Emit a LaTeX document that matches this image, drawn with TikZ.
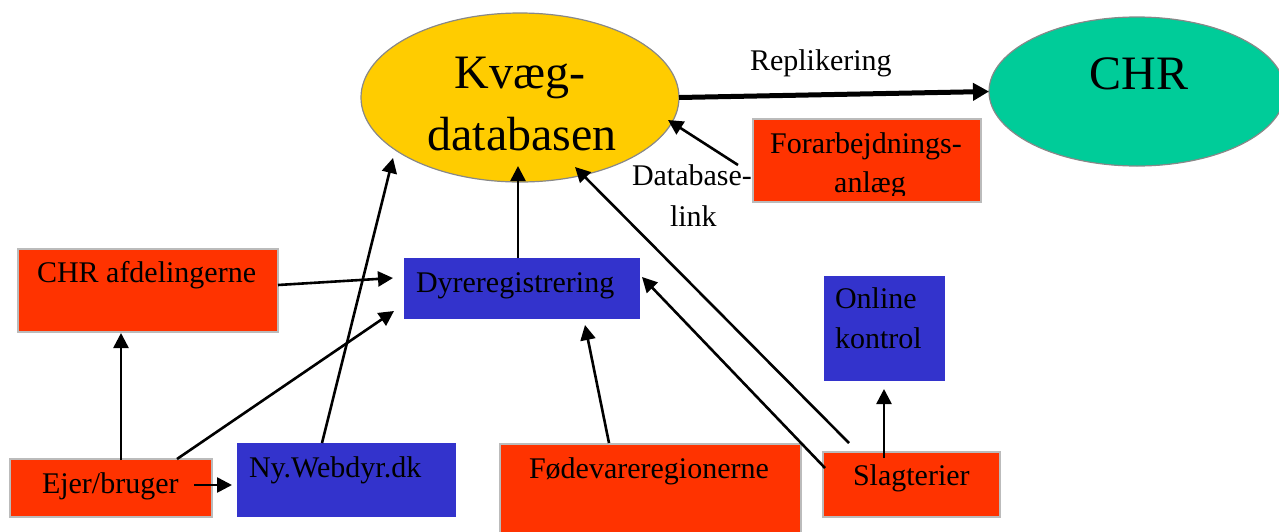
\documentclass[tikz,border=0pt]{standalone}
\usepackage{fontspec}
\setmainfont{Liberation Serif}
\usetikzlibrary{shapes.geometric,arrows.meta}
\definecolor{boxred}{HTML}{FF3300}
\definecolor{boxblue}{HTML}{3333CC}
\definecolor{ellyellow}{HTML}{FFCC00}
\definecolor{ellgreen}{HTML}{00CC99}
\definecolor{redborder}{HTML}{BBBBBB}
\definecolor{ellborder}{HTML}{888888}
\begin{document}
\begin{tikzpicture}[x=1pt,y=-1pt,
  redbox/.style={rectangle, fill=boxred, draw=redborder, line width=1.5pt, inner sep=0pt, outer sep=0pt},
  bluebox/.style={rectangle, fill=boxblue, inner sep=0pt, outer sep=0pt},
  bubble/.style={ellipse, draw=ellborder, line width=1.2pt, inner sep=0pt, outer sep=0pt},
  txt/.style={inner sep=0pt, outer sep=0pt, font=\fontsize{30}{36}\selectfont},
  bigtxt/.style={inner sep=0pt, outer sep=0pt, font=\fontsize{48}{58}\selectfont},
  arr/.style={line width=2.6pt, -{Triangle[length=15pt,width=15pt]}},
  bigarr/.style={line width=5pt, -{Triangle[length=16pt,width=17pt]}}
]
\useasboundingbox (0,0) rectangle (1279,531);

% shapes
\node[bubble, fill=ellyellow, minimum width=318pt, minimum height=169pt] (kvaeg) at (520,97.5) {};
\node[bubble, fill=ellgreen, minimum width=296pt, minimum height=149pt] (chr) at (1137,91.5) {};
\node[redbox, minimum width=228pt, minimum height=83pt] (forar) at (867,160.5) {};
\node[bluebox, minimum width=236pt, minimum height=61pt] (dyre) at (522,288.5) {};
\node[redbox, minimum width=260pt, minimum height=83pt] (chra) at (148,290.5) {};
\node[redbox, minimum width=202pt, minimum height=58pt] (ejer) at (111,488) {};
\node[bluebox, minimum width=219pt, minimum height=74pt] (ny) at (346.5,480) {};
\node[redbox, minimum width=301pt, minimum height=101pt] (foede) at (650.5,494.5) {};
\node[redbox, minimum width=177pt, minimum height=65pt] (slag) at (911.5,484.5) {};
\node[bluebox, minimum width=121pt, minimum height=105pt] (online) at (884.5,328.5) {};

% texts
\node[bigtxt, anchor=base] (tkv1) at (520,88) {Kvæg-};
\node[bigtxt, anchor=base] (tkv2) at (522,150) {databasen};
\node[bigtxt, anchor=base] (tchr) at (1139,89) {CHR};
\node[txt, anchor=base west] (trep) at (750,70) {Replikering};
\node[txt, anchor=base west] (tdb1) at (632,185) {Database-};
\node[txt, anchor=base west] (tdb2) at (670,226) {link};
\node[txt, anchor=base] (tfo1) at (866,153) {Forarbejdnings-};
\begin{scope}
  \clip (753,119) rectangle (981,195);
  \node[txt, anchor=base] (tfo2) at (870,192) {anlæg};
\end{scope}
\node[txt, anchor=base west] (tdyre) at (416,292) {Dyreregistrering};
\node[txt, anchor=base west] (tchra) at (37,282) {CHR afdelingerne};
\node[txt, anchor=base west] (tejer) at (42,493) {Ejer/bruger};
\node[txt, anchor=base west] (tny) at (249,477) {Ny.Webdyr.dk};
\node[txt, anchor=base west] (tfoede) at (529,478) {Fødevareregionerne};
\node[txt, anchor=base west] (tslag) at (853,485) {Slagterier};
\node[txt, anchor=base west] (ton1) at (835,308) {Online};
\node[txt, anchor=base west] (ton2) at (835,348) {kontrol};

% connectors
\draw[bigarr] (kvaeg.east) -- (chr.west);
\draw[arr] ([shift={(-129,4.5)}]forar.center) -- ([shift={(148,22.5)}]kvaeg.center);
\draw[arr] ([shift={(-4,-30.5)}]dyre.center) -- ([shift={(-2,68.5)}]kvaeg.center);
\draw[arr] ([shift={(-24.5,-37)}]ny.center) -- ([shift={(-127,60.5)}]kvaeg.center);
\draw[arr] ([shift={(-62.5,-41.5)}]slag.center) -- ([shift={(55,69.5)}]kvaeg.center);
\draw[arr] ([shift={(-86.5,-16.5)}]slag.center) -- ([shift={(120,-11.5)}]dyre.center);
\draw[arr] ([shift={(-27.5,-26.5)}]slag.center) -- ([shift={(-0.5,60.5)}]online.center);
\draw[arr] ([shift={(-41.5,-51.5)}]foede.center) -- ([shift={(63,36.5)}]dyre.center);
\draw[arr] ([shift={(130,-5.5)}]chra.center) -- ([shift={(-129,-10.5)}]dyre.center);
\draw[arr] ([shift={(66,-29)}]ejer.center) -- ([shift={(-128,22.5)}]dyre.center);
\draw[arr] ([shift={(10,-28)}]ejer.center) -- ([shift={(-27,42.5)}]chra.center);
\draw[arr] ([shift={(83,-3)}]ejer.center) -- ([shift={(-114.5,5)}]ny.center);
\end{tikzpicture}
\end{document}
